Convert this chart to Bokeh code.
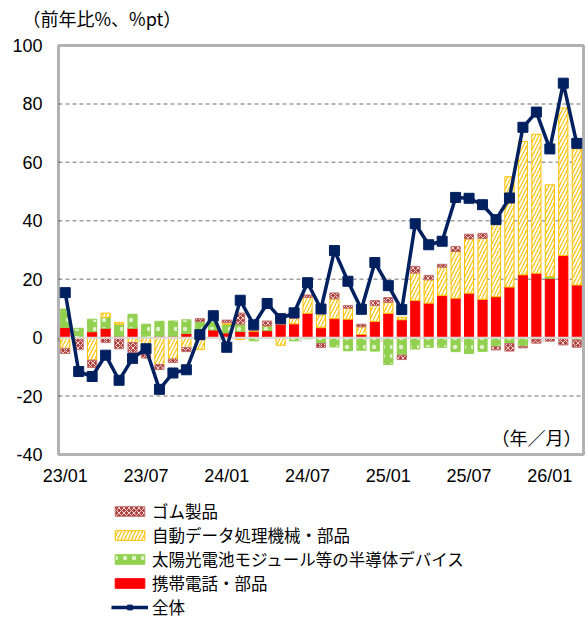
from bokeh.plotting import figure
from bokeh.models import (ColumnDataSource, Range1d, FixedTicker, Label,
                          Legend, LegendItem, BoxAnnotation)
from bokeh.embed import file_html
from bokeh.resources import INLINE

# ---------------- data ----------------
months = ["23/01","23/02","23/03","23/04","23/05","23/06","23/07","23/08","23/09","23/10","23/11","23/12",
          "24/01","24/02","24/03","24/04","24/05","24/06","24/07","24/08","24/09","24/10","24/11","24/12",
          "25/01","25/02","25/03","25/04","25/05","25/06","25/07","25/08","25/09","25/10","25/11","25/12",
          "26/01","26/02","26/03"]
tick_labels = ["23/01", "23/07", "24/01", "24/07", "25/01", "25/07", "26/01"]
y_ticks = [-40, -20, 0, 20, 40, 60, 80, 100]

mobile = [3.5, 0, 2, 3.2, 0.5, 3.2, 0, 0.5, 0.5, 1.4, 1.5, 2.6,
          1.6, 2.1, 2.1, 2.4, 4.7, 4.7, 8.3, 3.4, 6.5, 6.3, 1.1, 5.5,
          8.3, 6.1, 12.7, 11.8, 14.4, 13.5, 15.2, 13.1, 14.0, 17.3, 21.5, 22.0,
          20.3, 28.1, 18.0]
solar = [6.3, 3.2, 4.3, 3.7, 4.1, 4.8, 4.6, 5.1, 5.2, 4.7, 4.0, 4.5,
         2.9, 2.5, -1.1, 1.6, 0, -1.1, -0.4, -2.0, -3.2, -4.5, -4.3, -4.6,
         -9.2, -6.0, -3.9, -3.3, -3.3, -4.8, -5.4, -4.7, -3.1, -2.0, -3.0, -0.5,
         0.6, -0.3, -0.8]
adp = [-3.7, -0.5, -7.7, 1.5, 0.6, -1.7, -4.5, -9.2, -7.3, -3.4, -4.0, 0,
       0.6, -0.6, 0.3, 0, -2.6, 1.9, 5.5, 4.3, 6.8, 3.8, 2.6, 5.5,
       3.8, 0.9, 9.4, 8.0, 9.7, 16.0, 18.6, 20.9, 24.7, 37.8, 45.7, 47.6,
       31.4, 50.5, 46.6]
rubber = [-1.7, -3.5, -2.5, -1.7, -3.8, -3.4, -2.5, -1.7, -1.2, -1.4, 1.0, 1.5,
          0.9, 3.8, 0, 1.7, 0, 0, 0.8, -1.4, 2.0, 0.9, 0.9, 1.7,
          1.6, -1.5, 2.3, 1.5, 1.0, 1.7, 1.6, 1.7, -1.1, -2.6, -0.5, -1.4,
          -1.2, -2.2, -2.5]
total = [15.4, -11.6, -13.3, -6.0, -14.6, -7.1, -3.8, -17.7, -12.1, -11.0, 1.0, 7.5,
         -3.3, 12.8, 4.4, 11.7, 6.5, 8.5, 18.8, 9.8, 29.8, 19.3, 9.7, 25.7,
         17.8, 9.6, 39.0, 31.8, 33.0, 48.0, 47.7, 45.5, 40.4, 47.8, 72.0, 77.2,
         64.6, 87.1, 66.5]

labels = {
    "rubber": "ゴム製品",
    "adp": "自動データ処理機械・部品",
    "solar": "太陽光電池モジュール等の半導体デバイス",
    "mobile": "携帯電話・部品",
    "total": "全体",
}

# ---------------- layout (pixels) ----------------
W, H = 588, 619
BOX_L, BOX_R, BOX_T, BOX_B = 58, 583, 45, 454
Y_MIN, Y_MAX = y_ticks[0], y_ticks[-1]
X_MIN, X_MAX = -0.5, len(months) - 0.5
kx = (BOX_R - BOX_L) / (X_MAX - X_MIN)
ky = (BOX_B - BOX_T) / (Y_MAX - Y_MIN)
x_start = X_MIN - BOX_L / kx
x_end = x_start + W / kx
y_end = Y_MAX + BOX_T / ky
y_start = y_end - H / ky

JP = "Noto Sans CJK JP"
p = figure(width=W, height=H, output_backend="svg", toolbar_location=None,
           x_range=Range1d(x_start, x_end), y_range=Range1d(y_start, y_end),
           min_border_left=0, min_border_right=0, min_border_top=0,
           min_border_bottom=0)
p.background_fill_color = "white"
p.border_fill_color = "white"
p.outline_line_color = None
p.xgrid.grid_line_color = None
p.ygrid.grid_line_color = None

x = list(range(len(months)))

# horizontal dashed gridlines within the box
gy = [v for v in y_ticks if v not in (Y_MIN, 0, Y_MAX)]
p.segment(x0=[X_MIN] * len(gy), x1=[X_MAX] * len(gy), y0=gy, y1=gy,
          line_color="#a0a0a0", line_dash="4 3", line_width=1.5)

# stacking
pos = [0.0] * len(months)
neg = [0.0] * len(months)
series = [("mobile", mobile, dict(fill_color="#ff0000", line_color="#ff0000")),
          ("solar", solar, dict(fill_color="#92d050", line_color="#92d050",
                                 hatch_pattern=".", hatch_color="white", hatch_scale=9,
                                 hatch_weight=1, hatch_alpha=0.7)),
          ("adp", adp, dict(fill_color="#ffc000", line_color="#ffc000",
                             hatch_pattern="/", hatch_color="white", hatch_scale=7,
                             hatch_weight=2)),
          ("rubber", rubber, dict(fill_color="#b0413e", line_color="#c07070",
                                   hatch_pattern="x", hatch_color="white", hatch_scale=5,
                                   hatch_weight=1, hatch_alpha=0.8))]
rend = {}
for key, vals, style in series:
    tops, bots = [], []
    for i, v in enumerate(vals):
        if v >= 0:
            bots.append(pos[i]); tops.append(pos[i] + v); pos[i] += v
        else:
            tops.append(neg[i]); bots.append(neg[i] + v); neg[i] += v
    src = ColumnDataSource(dict(x=x, top=tops, bottom=bots))
    rend[key] = p.vbar(x="x", top="top", bottom="bottom", width=0.68, source=src,
                       line_width=1, **style)

# zero axis line and boundary ticks
p.segment(x0=[X_MIN], x1=[X_MAX], y0=[0], y1=[0], line_color="#d9d9d9", line_width=2)
bx = [i - 0.5 for i in range(0, len(months) + 1, 6)]
p.segment(x0=bx, x1=bx, y0=[0] * len(bx), y1=[-1.5] * len(bx),
          line_color="#d9d9d9", line_width=2)

tsrc = ColumnDataSource(dict(x=x, y=total))
ln = p.line("x", "y", source=tsrc, line_color="#002060", line_width=3.5)
mk = p.scatter("x", "y", source=tsrc, marker="square", size=10,
               fill_color="#002060", line_color="#002060")

# plot box
p.add_layout(BoxAnnotation(left=X_MIN, right=X_MAX, bottom=Y_MIN, top=Y_MAX,
                           fill_alpha=0, line_color="black", line_width=3))

# axes placed at the box edges
p.yaxis.fixed_location = X_MIN
p.yaxis.ticker = FixedTicker(ticks=y_ticks)
p.yaxis.major_label_overrides = {v: str(v) for v in y_ticks}
p.yaxis.axis_line_color = None
p.yaxis.major_tick_line_color = None
p.yaxis.minor_tick_line_color = None
p.yaxis.major_label_standoff = 10
p.yaxis.major_label_text_font = "Liberation Sans"
p.yaxis.major_label_text_font_size = "18px"
p.yaxis.major_label_text_color = "black"

xt = [months.index(m) for m in tick_labels]
p.xaxis.fixed_location = Y_MIN
p.xaxis.ticker = FixedTicker(ticks=xt)
p.xaxis.major_label_overrides = {i: months[i] for i in xt}
p.xaxis.axis_line_color = None
p.xaxis.major_tick_line_color = None
p.xaxis.minor_tick_line_color = None
p.xaxis.major_label_standoff = 5
p.xaxis.major_label_text_font = "Liberation Sans"
p.xaxis.major_label_text_font_size = "18px"
p.xaxis.major_label_text_color = "black"

# texts
p.add_layout(Label(x=22, y=H - 17, x_units="screen", y_units="screen",
                   text="（前年比%、%pt）", text_font=JP, text_font_size="18px",
                   text_baseline="middle", text_align="left", text_color="black"))
p.add_layout(Label(x=581, y=H - 436, x_units="screen", y_units="screen",
                   text="（年／月）", text_font=JP, text_font_size="18px",
                   text_baseline="middle", text_align="right", text_color="black"))

# legend: one entry per row, rows 24 px apart
legend_rows = [(labels["rubber"], [rend["rubber"]]),
               (labels["adp"], [rend["adp"]]),
               (labels["solar"], [rend["solar"]]),
               (labels["mobile"], [rend["mobile"]]),
               (labels["total"], [ln, mk])]
ROW0, PITCH, HALF = 511, 24.0, 12.0
for k, (lab, rs) in enumerate(legend_rows):
    cy = ROW0 + PITCH * k
    leg = Legend(items=[LegendItem(label=lab, renderers=rs)],
                 location=(111, H - cy - HALF), orientation="vertical",
                 glyph_width=37, glyph_height=12, label_height=20,
                 spacing=0, label_standoff=4, padding=0, margin=0,
                 label_text_font=JP, label_text_font_size="16.5px",
                 label_text_color="black",
                 border_line_color=None, background_fill_alpha=0)
    p.add_layout(leg, "center")

open("out.html", "w").write(file_html(p, INLINE))
